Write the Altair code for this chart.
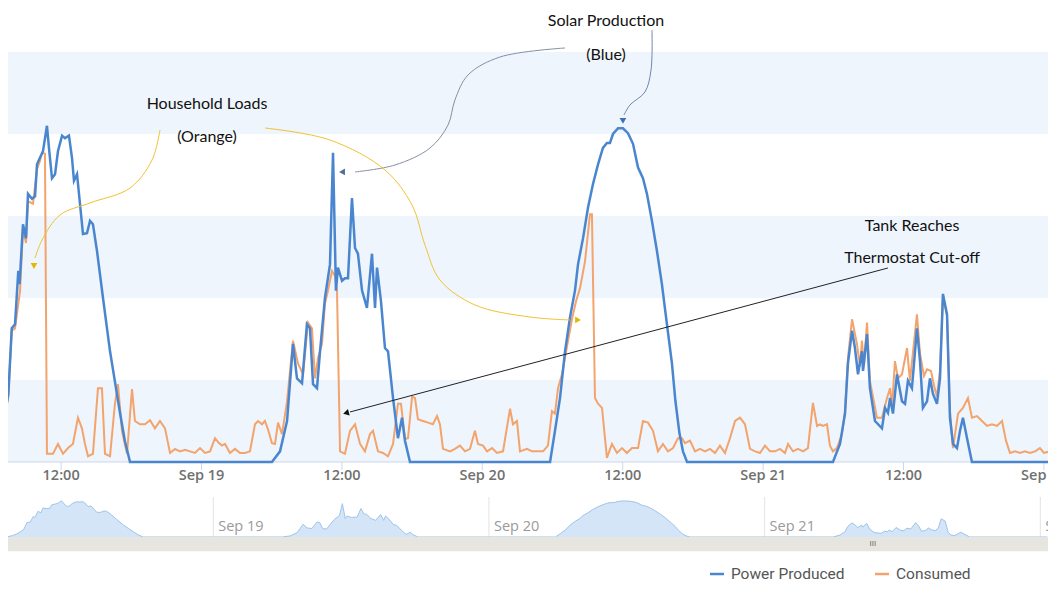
import altair as alt
import pandas as pd

# ---------------- data (hours since Sep 18 00:00, kW) ----------------
blue_h = [6.0, 6.5, 6.9, 7.20, 7.49, 7.78, 8.06, 8.34, 8.45, 8.74, 9.00, 9.17, 9.51, 9.77, 9.94, 10.19, 10.45,
          10.79, 10.96, 11.22, 11.48, 11.73, 12.08, 12.33, 12.67, 12.93, 13.10, 13.36, 13.61, 13.87, 14.21,
          14.47, 14.72, 15.07, 15.58, 16.18, 16.60, 17.03, 17.46, 17.89,
          30.02, 30.71, 31.31, 31.82, 32.16, 32.59, 33.01, 33.27, 33.53, 33.87, 34.13, 34.55, 34.98, 35.24,
          35.49, 35.66, 36.01, 36.26, 36.52, 36.86, 37.12, 37.37, 37.72, 38.14, 38.57, 38.83, 39.00, 39.34,
          39.68, 39.94, 40.37, 40.79, 41.14, 41.39, 41.82,
          53.79, 54.21, 54.64, 55.07, 55.49, 55.92, 56.18, 56.61, 57.03, 57.46, 57.89, 58.31, 58.65, 58.91,
          59.17, 59.60, 60.02, 60.45, 60.88, 61.31, 61.73, 62.07, 62.50, 62.93, 63.35, 63.78, 64.21, 64.50,
          64.85, 65.15, 65.50,
          77.97, 78.57, 79.00, 79.25, 79.60, 79.85, 80.11, 80.45, 80.54, 80.88, 81.13, 81.56, 82.16, 82.42,
          82.67, 82.85, 83.10, 83.44, 83.87, 84.13, 84.38, 84.72, 85.15, 85.41, 85.66, 86.01, 86.26, 86.52,
          86.86, 87.12, 87.37, 87.72, 87.97, 88.23, 88.57, 88.83, 89.08, 89.43, 89.85, 96.60]
blue_v = [0, 0.15, 0.35, 0.59, 0.83, 1.63, 1.68, 2.33, 2.17, 2.90, 2.73, 3.27, 3.21, 3.24, 3.63, 3.71, 3.79,
          4.10, 3.83, 3.46, 3.51, 3.79, 3.98, 3.95, 3.98, 3.71, 3.43, 3.51, 3.15, 2.78, 2.79,
          2.94, 2.90, 2.57, 2.00, 1.35, 0.98, 0.60, 0.25, 0,
          0, 0.13, 0.50, 1.44, 1.02, 0.96, 1.68, 1.63, 0.95, 0.90, 1.35, 2.00, 2.41, 3.77,
          2.09, 2.37, 2.21, 2.24, 2.24, 3.22, 2.61, 2.54, 2.09, 1.88, 2.54, 1.88, 2.37, 1.96,
          1.39, 1.35, 0.78, 0.29, 0.54, 0.26, 0,
          0, 0.38, 0.78, 1.35, 1.76, 2.09, 2.41, 2.73, 3.10, 3.39, 3.63, 3.83, 3.89, 3.89,
          4.00, 4.07, 4.07, 4.01, 3.88, 3.59, 3.46, 3.27, 2.94, 2.57, 2.17, 1.68, 1.20, 0.75,
          0.35, 0.13, 0,
          0, 0.22, 0.59, 1.20, 1.60, 1.39, 1.07, 1.35, 1.11, 1.56, 0.90, 0.50, 0.41, 0.66,
          0.60, 0.78, 0.59, 1.07, 0.74, 0.71, 0.99, 0.90, 1.63, 1.23, 0.66, 0.74, 1.02, 0.83,
          0.71, 1.02, 2.05, 1.80, 0.54, 0.22, 0.17, 0.38, 0.54, 0.29, 0, 0]

orange_h = [6.0, 6.5, 6.9, 7.20, 7.49, 7.78, 8.06, 8.49, 8.74, 9.00, 9.17, 9.60, 9.94, 10.19, 10.37, 10.62,
            10.79, 11.31, 11.73, 12.16, 12.59, 13.01, 13.44, 13.78, 14.04, 14.30, 14.72, 15.15, 15.49, 15.75,
            16.18, 16.60, 16.86, 17.20, 17.63, 18.06, 18.31, 18.74, 19.17, 19.60, 20.02, 20.45, 20.88, 21.31,
            21.73, 22.16, 22.59, 23.01, 23.44, 23.87, 24.30, 24.73, 25.15, 25.49, 25.75, 26.01, 26.43, 26.86,
            27.29, 27.71, 28.14, 28.57, 28.83, 29.17, 29.42, 29.68, 30.02, 30.28, 30.54, 30.88, 31.31, 31.82,
            32.25, 32.68, 33.10, 33.44, 33.70, 33.96, 34.30, 34.55, 34.81, 35.15, 35.41, 35.58, 35.84, 36.26,
            36.69, 37.12, 37.55, 37.97, 38.40, 38.66, 39.08, 39.51, 39.94, 40.37, 40.79, 41.05, 41.39, 41.65,
            42.00, 42.25, 42.50, 42.93, 43.36, 43.78, 44.13, 44.38, 44.64, 45.24, 45.66, 46.09, 46.52, 46.95,
            47.37, 47.63, 48.06, 48.40, 48.83, 49.25, 49.77, 50.37, 50.62, 50.96, 51.22, 51.82, 52.25, 52.67,
            53.19, 53.61, 53.95, 54.21, 54.47, 54.81, 55.24, 55.66, 56.01, 56.35, 56.78, 57.20, 57.37, 57.63,
            57.89, 58.23, 58.65, 59.08, 59.51, 59.94, 60.36, 60.79, 61.31, 61.73, 62.16, 62.59, 63.01, 63.44,
            63.87, 64.30, 64.72, 65.07, 65.32, 65.75, 66.18, 66.60, 67.03, 67.46, 67.89, 68.31, 68.74, 69.17,
            69.60, 70.02, 70.45, 70.88, 71.31, 71.73, 72.16, 72.59, 73.02, 73.44, 73.87, 74.13, 74.55, 74.98,
            75.41, 75.83, 76.26, 76.61, 76.86, 77.11, 77.46, 77.71, 77.97, 78.31, 78.74, 79.00, 79.25, 79.60,
            80.02, 80.28, 80.45, 80.62, 80.88, 81.13, 81.73, 82.16, 82.59, 82.85, 83.02, 83.27, 83.53, 83.87,
            84.30, 84.55, 85.15, 85.41, 85.75, 86.01, 86.35, 86.61, 86.86, 87.12, 87.37, 87.72, 87.97, 88.23,
            88.66, 89.08, 89.51, 89.85, 90.28, 90.71, 91.14, 91.56, 91.99, 92.42, 92.76, 93.10, 93.53, 93.96,
            94.38, 94.81, 95.24, 95.66, 96.00, 96.52]
orange_v = [0.15, 0.18, 0.35, 0.56, 0.80, 1.60, 1.63, 2.09, 2.84, 2.67, 3.18, 3.15, 3.57, 3.67, 3.77, 3.76,
            0.10, 0.10, 0.22, 0.10, 0.17, 0.22, 0.54, 0.41, 0.22, 0.07, 0.10, 0.90, 0.90, 0.10,
            0.07, 0.71, 0.95, 0.38, 0.10, 0.89, 0.50, 0.46, 0.46, 0.51, 0.41, 0.50, 0.41, 0.11,
            0.16, 0.13, 0.15, 0.13, 0.11, 0.17, 0.11, 0.13, 0.29, 0.23, 0.20, 0.22, 0.11, 0.16,
            0.11, 0.11, 0.13, 0.46, 0.50, 0.46, 0.50, 0.40, 0.23, 0.22, 0.48, 0.34, 0.74, 1.48,
            1.20, 1.07, 1.70, 1.63, 1.02, 1.27, 1.44, 1.93, 2.09, 2.33, 2.27, 2.09, 0.13, 0.10,
            0.38, 0.46, 0.22, 0.13, 0.34, 0.38, 0.13, 0.11, 0.07, 0.22, 0.71, 0.71, 0.28, 0.29,
            0.80, 0.78, 0.52, 0.50, 0.48, 0.46, 0.56, 0.46, 0.16, 0.13, 0.16, 0.20, 0.13, 0.16,
            0.38, 0.22, 0.20, 0.13, 0.17, 0.11, 0.13, 0.65, 0.46, 0.50, 0.13, 0.16, 0.13, 0.13,
            0.13, 0.20, 0.62, 0.59, 0.90, 1.07, 1.41, 1.74, 1.96, 2.12, 2.45, 3.02, 3.02, 0.78,
            0.71, 0.66, 0.05, 0.22, 0.11, 0.17, 0.11, 0.17, 0.17, 0.50, 0.48, 0.38, 0.13, 0.22,
            0.13, 0.17, 0.29, 0.29, 0.23, 0.26, 0.13, 0.16, 0.13, 0.16, 0.11, 0.20, 0.11, 0.29,
            0.50, 0.54, 0.46, 0.16, 0.13, 0.11, 0.20, 0.13, 0.13, 0.16, 0.11, 0.22, 0.13, 0.16,
            0.13, 0.17, 0.72, 0.44, 0.46, 0.44, 0.46, 0.20, 0.13, 0.17, 0.34, 0.62, 1.26, 1.74,
            1.44, 1.17, 1.48, 1.17, 1.70, 0.99, 0.54, 0.54, 0.78, 0.90, 0.68, 1.23, 1.02, 1.07,
            1.39, 0.99, 1.80, 1.32, 1.05, 1.13, 1.11, 0.93, 0.80, 1.11, 2.02, 1.78, 0.62, 0.17,
            0.59, 0.66, 0.78, 0.54, 0.56, 0.50, 0.44, 0.46, 0.44, 0.50, 0.26, 0.11, 0.13, 0.11,
            0.13, 0.11, 0.13, 0.17, 0.11, 0.13]

series_names = ["Power Produced", "Consumed"]
series_colors = ["#4a86cf", "#f3a36c"]

tick_h = [12, 24, 36, 48, 60, 72, 84, 96]
tick_labels = ["12:00", "Sep 19", "12:00", "Sep 20", "12:00", "Sep 21", "12:00", "Sep 22"]
nav_days = [24, 48, 72, 96]
nav_labels = ["Sep 19", "Sep 20", "Sep 21", "Sep 22"]

# annotations
note_text = ["Solar Production", "(Blue)", "Household Loads", "(Orange)", "Tank Reaches", "Thermostat Cut-off"]
note_h = [58.57, 58.57, 24.47, 24.47, 84.73, 84.73]
note_v = [5.378, 4.963, 4.366, 3.963, 2.878, 2.488]

curve_id = (["solar_left"] * 8 + ["solar_right"] * 5 + ["house_left"] * 7 + ["house_right"] * 9 + ["tank"] * 2)
curve_h = [55.07, 49.51, 46.78, 45.66, 45.07, 43.53, 40.54, 37.12,
           62.50, 62.42, 61.90, 60.62, 60.11,
           20.45, 19.77, 17.89, 14.47, 11.90, 10.37, 9.77,
           29.43, 34.98, 39.68, 41.99, 43.10, 44.38, 47.37, 52.08, 55.49,
           82.67, 36.69]
curve_v = [5.049, 4.939, 4.720, 4.415, 4.110, 3.829, 3.622, 3.537,
           5.268, 4.780, 4.512, 4.354, 4.232,
           4.049, 3.683, 3.341, 3.159, 3.012, 2.707, 2.488,
           4.073, 3.927, 3.561, 3.134, 2.646, 2.220, 1.915, 1.768, 1.732,
           2.366, 0.610]
curve_colors = {"solar_left": "#8590a3", "solar_right": "#6f87ad", "house_left": "#f1c232",
                "house_right": "#f1c232", "tank": "#222222"}

head_h = [36.01, 60.02, 9.68, 56.18, 36.35]
head_v = [3.537, 4.159, 2.390, 1.732, 0.598]
head_shape = ["triangle-left", "triangle-down", "triangle-down", "triangle-right", "triangle-left"]
head_angle = [0, 0, 0, 0, 345]
head_color = ["#4f6f9f", "#3f6fb5", "#e0b800", "#e0b800", "#111111"]

# ---------------- scales ----------------
MX = [7.46, 96.35]
MY = [-1.5366, 5.5366]
NX = [6.13, 96.67]
NY = [-5.763, 59.774]


def sx(dom):
    return alt.Scale(domain=dom, nice=False, zero=False)


def mxe(f):
    return alt.X(f, scale=sx(MX), axis=None)


def mye(f):
    return alt.Y(f, scale=sx(MY), axis=None)


blue_df = pd.DataFrame({"h": blue_h, "v": blue_v})
orange_df = pd.DataFrame({"h": orange_h, "v": orange_v})

bands = pd.DataFrame({"y0": [0, 2, 4], "y1": [1, 3, 5], "x0": [MX[0]] * 3, "x1": [MX[1]] * 3})
band_layer = alt.Chart(bands).mark_rect(color="#eef5fc").encode(
    x=mxe("x0:Q"), x2="x1:Q", y=mye("y0:Q"), y2="y1:Q")

orange_line = alt.Chart(orange_df).mark_line(color=series_colors[1], strokeWidth=2, clip=True).encode(
    x=mxe("h:Q"), y=mye("v:Q"))
blue_line = alt.Chart(blue_df).mark_line(color=series_colors[0], strokeWidth=2.5, clip=True).encode(
    x=mxe("h:Q"), y=mye("v:Q"))

axis_line = alt.Chart(pd.DataFrame({"a": [MX[0]], "b": [MX[1]], "y": [0]})).mark_rule(
    color="#ccd6eb", strokeWidth=1).encode(x=mxe("a:Q"), x2="b:Q", y=mye("y:Q"))

ticks_df = pd.DataFrame({"h": tick_h, "label": tick_labels, "y0": 0, "y1": -0.1, "yl": -0.171})
tick_rules = alt.Chart(ticks_df).mark_rule(color="#ccd6eb").encode(
    x=mxe("h:Q"), y=mye("y0:Q"), y2="y1:Q")
tick_text = alt.Chart(ticks_df).mark_text(
    font="Open Sans", fontSize=14.5, fontWeight=600, color="#707070", baseline="middle", align="center"
).encode(x=mxe("h:Q"), y=mye("yl:Q"), text="label:N")

notes_df = pd.DataFrame({"h": note_h, "v": note_v, "t": note_text})
notes = alt.Chart(notes_df).mark_text(font="Lato", fontSize=16, color="#111111", baseline="middle").encode(
    x=mxe("h:Q"), y=mye("v:Q"), text="t:N")

curves_df = pd.DataFrame({"curve": curve_id, "h": curve_h, "v": curve_v})
curves_df["i"] = range(len(curves_df))
curves_df["col"] = [curve_colors[c] for c in curves_df["curve"]]
curves = alt.Chart(curves_df).mark_line(interpolate="catmull-rom", strokeWidth=1).encode(
    x=mxe("h:Q"), y=mye("v:Q"), detail="curve:N", order="i:Q", color=alt.Color("col:N", scale=None))

heads_df = pd.DataFrame({"h": head_h, "v": head_v, "shape": head_shape, "ang": head_angle, "col": head_color})
heads = alt.Chart(heads_df).mark_point(filled=True, size=45, opacity=1).encode(
    x=mxe("h:Q"), y=mye("v:Q"), shape=alt.Shape("shape:N", scale=None),
    angle=alt.Angle("ang:Q", scale=None), color=alt.Color("col:N", scale=None))

# legend (drawn in main coordinates)
leg_df = pd.DataFrame({"name": series_names, "col": series_colors,
                       "a": [67.46, 81.56], "b": [68.66, 82.76], "t": [69.25, 83.36], "y": [-1.366, -1.366]})
leg_sym = alt.Chart(leg_df).mark_rule(strokeWidth=2.5).encode(
    x=mxe("a:Q"), x2="b:Q", y=mye("y:Q"), color=alt.Color("col:N", scale=None))
leg_txt = alt.Chart(leg_df).mark_text(font="Roboto", fontSize=15.5, color="#555555", align="left",
                                      baseline="middle").encode(x=mxe("t:Q"), y=mye("y:Q"), text="name:N")

main = alt.layer(band_layer, axis_line, tick_rules, tick_text, orange_line, blue_line,
                 curves, heads, notes, leg_sym, leg_txt)

# ---------------- navigator ----------------
def nxe(f):
    return alt.X(f, scale=sx(NX), axis=None)


def nye(f):
    return alt.Y(f, scale=sx(NY), axis=None)


nav_area = alt.Chart(blue_df).mark_area(
    color="#d3e5f7", opacity=1, line={"color": "#9fc4ea", "strokeWidth": 1}).encode(
    x=nxe("h:Q"), y=nye("v:Q"), y2=alt.datum(0))

nav_df = pd.DataFrame({"h": nav_days, "label": nav_labels, "y0": 0, "y1": 4.52, "yl": 1.13})
nav_grid = alt.Chart(nav_df).mark_rule(color="#e3e3e3").encode(x=nxe("h:Q"), y=nye("y0:Q"), y2="y1:Q")
nav_text = alt.Chart(nav_df).mark_text(font="Open Sans", fontSize=14.5, color="#9a9a9a", align="left",
                                       baseline="middle", dx=5).encode(
    x=nxe("h:Q"), y=nye("yl:Q"), text="label:N")

bar_df = pd.DataFrame({"a": [NX[0]], "b": [NX[1]], "y0": [0], "y1": [-1.6]})
scroll = alt.Chart(bar_df).mark_rect(color="#e6e5df").encode(x=nxe("a:Q"), x2="b:Q", y=nye("y0:Q"), y2="y1:Q")
grip = alt.Chart(pd.DataFrame({"h": [81.43], "v": [-0.75], "t": ["III"]})).mark_text(
    fontSize=8, color="#666666", baseline="middle").encode(x=nxe("h:Q"), y=nye("v:Q"), text="t:N")

nav = alt.layer(nav_grid, nav_area, nav_text, scroll, grip)

chart = alt.layer(main, nav).resolve_scale(x="independent", y="independent").properties(
    width=1040, height=580, padding=0, autosize=alt.AutoSizeParams(type="none")
).configure_view(stroke=None)

chart.save("out.html", embed_options={"renderer": "svg", "actions": False})
